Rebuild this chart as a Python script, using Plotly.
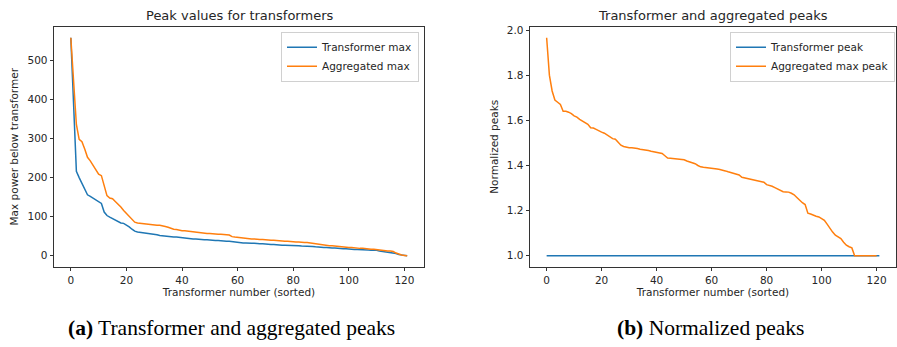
import plotly.graph_objects as go

# ---- data ----
transformer_max = [558, 380, 216, 200, 184, 171, 156, 152, 148, 144, 140, 134, 112, 103, 99, 95, 90, 87, 84, 83,
                   79, 74, 68, 63, 61, 60, 59, 58, 58, 57, 56, 54, 52, 51, 50, 49, 49, 48, 48, 47,
                   47, 46, 45, 44, 43, 43, 42, 42, 41, 41, 40, 40, 39, 39, 38, 38, 37, 37, 36, 35,
                   34, 34, 33, 33, 32, 32, 32, 31, 31, 31, 30, 30, 29, 29, 28, 28, 27, 27, 27, 26,
                   26, 26, 26, 25, 25, 25, 24, 24, 23, 22, 21, 21, 21, 20, 20, 20, 19, 19, 18, 18,
                   17, 17, 16, 16, 16, 15, 15, 15, 14, 14, 14, 12, 11, 10, 9, 9, 8, 6, 3, 2,
                   1, 0]
aggregated_max = [558, 430, 336, 298, 292, 273, 252, 243, 231, 222, 209, 205, 180, 154, 148, 146, 139, 133, 125, 116,
                  108, 102, 93, 86, 84, 83, 82, 81, 81, 80, 79, 78, 78, 77, 75, 73, 70, 68, 67, 65,
                  64, 64, 63, 62, 61, 60, 60, 59, 58, 57, 57, 56, 56, 55, 55, 55, 54, 53, 49, 48,
                  47, 46, 46, 45, 44, 43, 43, 42, 42, 42, 41, 41, 40, 40, 39, 38, 38, 37, 37, 36,
                  36, 35, 35, 34, 34, 34, 33, 32, 31, 30, 28, 27, 27, 26, 26, 25, 25, 24, 23, 22,
                  21, 21, 20, 20, 19, 19, 18, 18, 17, 17, 16, 15, 13, 12, 12, 12, 11, 7, 4, 2,
                  1, 0]
transformer_peak = [1.0] * 122
aggregated_max_peak = [1.966, 1.80, 1.73, 1.69, 1.68, 1.67, 1.64, 1.64, 1.636, 1.63,
                       1.62, 1.614, 1.604, 1.597, 1.592, 1.582, 1.567, 1.566, 1.56, 1.553,
                       1.548, 1.543, 1.534, 1.528, 1.519, 1.516, 1.501, 1.49, 1.484, 1.481,
                       1.479, 1.479, 1.478, 1.475, 1.472, 1.471, 1.469, 1.466, 1.463, 1.46,
                       1.457, 1.455, 1.453, 1.443, 1.433, 1.432, 1.431, 1.43, 1.428, 1.427,
                       1.425, 1.42, 1.416, 1.412, 1.408, 1.40, 1.394, 1.392, 1.391, 1.39,
                       1.388, 1.386, 1.384, 1.382, 1.38, 1.376, 1.372, 1.368, 1.364, 1.361,
                       1.358, 1.348, 1.345, 1.343, 1.34, 1.337, 1.335, 1.333, 1.33, 1.326,
                       1.315, 1.312, 1.308, 1.302, 1.296, 1.29, 1.284, 1.283, 1.282, 1.277,
                       1.27, 1.258, 1.245, 1.235, 1.227, 1.189, 1.185, 1.179, 1.175, 1.172,
                       1.165, 1.157, 1.14, 1.12, 1.105, 1.091, 1.083, 1.076, 1.06, 1.047,
                       1.04, 1.035, 1.0, 1.0, 1.0, 1.0, 1.0, 1.0, 1.0, 1.0, 1.0]

x_ticks = [0, 20, 40, 60, 80, 100, 120]
y_ticks_left = [0, 100, 200, 300, 400, 500]
y_ticks_right = [1.0, 1.2, 1.4, 1.6, 1.8, 2.0]
y_ticks_right_text = ["1.0", "1.2", "1.4", "1.6", "1.8", "2.0"]

BLUE = "#1f77b4"
ORANGE = "#ff7f0e"
W, H = 897, 347
FONT = "DejaVu Sans"
FS = 10.5
TICK_FONT = dict(family=FONT, size=FS, color="#262626")

fig = go.Figure()
fig.add_trace(go.Scatter(x=list(range(len(transformer_max))), y=transformer_max, mode="lines",
                         name="Transformer max", line=dict(color=BLUE, width=1.5),
                         xaxis="x", yaxis="y", legend="legend"))
fig.add_trace(go.Scatter(x=list(range(len(aggregated_max))), y=aggregated_max, mode="lines",
                         name="Aggregated max", line=dict(color=ORANGE, width=1.5),
                         xaxis="x", yaxis="y", legend="legend"))
fig.add_trace(go.Scatter(x=list(range(len(transformer_peak))), y=transformer_peak, mode="lines",
                         name="Transformer peak", line=dict(color=BLUE, width=1.5),
                         xaxis="x2", yaxis="y2", legend="legend2"))
fig.add_trace(go.Scatter(x=list(range(len(aggregated_max_peak))), y=aggregated_max_peak, mode="lines",
                         name="Aggregated max peak", line=dict(color=ORANGE, width=1.5),
                         xaxis="x2", yaxis="y2", legend="legend2"))

ybot = 1 - 266 / H
ytop = 1 - 24 / H

axis_common = dict(showline=True, linecolor="#333333", linewidth=0.8, mirror=True,
                   ticks="outside", ticklen=3.5, tickwidth=0.8, tickcolor="#333333",
                   showgrid=False, zeroline=False, tickfont=TICK_FONT)
TITLE_FONT = dict(family=FONT, size=FS, color="#262626")

fig.update_layout(
    width=W, height=H,
    margin=dict(l=0, r=0, t=0, b=0),
    paper_bgcolor="white", plot_bgcolor="white",
    font=dict(family=FONT, size=FS, color="#262626"),
    xaxis=dict(domain=[54 / W, 424 / W], range=[-6.05, 127.05], tickvals=x_ticks,
               title=dict(text="Transformer number (sorted)", font=TITLE_FONT, standoff=1),
               anchor="y", **axis_common),
    yaxis=dict(domain=[ybot, ytop], range=[-27.9, 585.9], tickvals=y_ticks_left,
               title=dict(text="Max power below transformer", font=TITLE_FONT, standoff=6),
               anchor="x", **axis_common),
    xaxis2=dict(domain=[530 / W, 896 / W], range=[-6.05, 127.05], tickvals=x_ticks,
                title=dict(text="Transformer number (sorted)", font=TITLE_FONT, standoff=1),
                anchor="y2", **axis_common),
    yaxis2=dict(domain=[ybot, ytop], range=[0.9517, 2.0143], tickvals=y_ticks_right,
                ticktext=y_ticks_right_text,
                title=dict(text="Normalized peaks", font=TITLE_FONT, standoff=6),
                anchor="x2", **axis_common),
    legend=dict(x=281 / W, y=1 - 29 / H, xanchor="left", yanchor="top",
                bgcolor="rgba(255,255,255,0.8)", bordercolor="#d0d0d0", borderwidth=1,
                font=dict(family=FONT, size=FS, color="#262626"), itemwidth=30,
                tracegroupgap=0),
    legend2=dict(x=730 / W, y=1 - 29 / H, xanchor="left", yanchor="top",
                 bgcolor="rgba(255,255,255,0.8)", bordercolor="#d0d0d0", borderwidth=1,
                 font=dict(family=FONT, size=FS, color="#262626"), itemwidth=30,
                 tracegroupgap=0),
    showlegend=True,
)

annotations = [
    dict(text="Peak values for transformers", x=239 / W, y=1 - 13 / H, xref="paper", yref="paper",
         showarrow=False, xanchor="center", yanchor="middle",
         font=dict(family=FONT, size=13, color="#262626")),
    dict(text="Transformer and aggregated peaks", x=713 / W, y=1 - 13 / H, xref="paper", yref="paper",
         showarrow=False, xanchor="center", yanchor="middle",
         font=dict(family=FONT, size=13, color="#262626")),
    dict(text="<b>(a)</b> Transformer and aggregated peaks", x=231 / W, y=1 - 328 / H,
         xref="paper", yref="paper", showarrow=False, xanchor="center", yanchor="middle",
         font=dict(family="Liberation Serif", size=21.5, color="black")),
    dict(text="<b>(b)</b> Normalized peaks", x=710 / W, y=1 - 328 / H,
         xref="paper", yref="paper", showarrow=False, xanchor="center", yanchor="middle",
         font=dict(family="Liberation Serif", size=21.5, color="black")),
]
fig.update_layout(annotations=annotations)

fig.write_html("out.html", config={"displayModeBar": False},
               post_script="document.body.style.margin='0';document.body.style.overflow='hidden';")
